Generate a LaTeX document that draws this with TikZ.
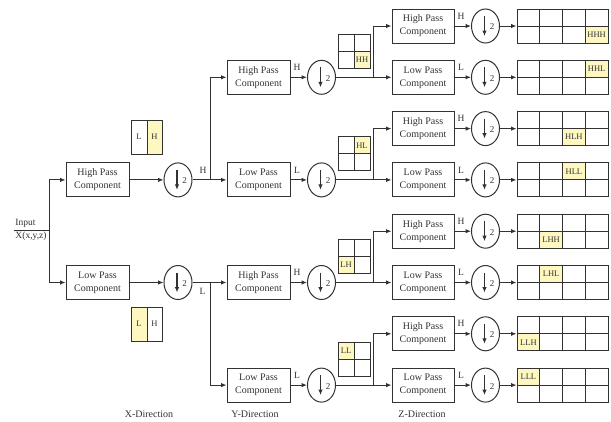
\documentclass[tikz,border=0pt]{standalone}
\usepackage{fontspec}
\setmainfont{Liberation Serif}
\usetikzlibrary{shapes.geometric,arrows.meta,calc}
\definecolor{ln}{RGB}{50,50,50}
\definecolor{hl}{RGB}{255,247,192}
\tikzset{
  box/.style={draw, minimum width=63pt, minimum height=34pt, inner sep=0pt, align=center, font=\fontsize{10}{13}\selectfont},
  ds/.style={draw, ellipse, minimum width=28pt, minimum height=34pt, inner sep=0pt},
  arr/.style={-{Latex[length=5.5pt,width=4.5pt]}},
  lbl/.style={font=\fontsize{9.5}{10}\selectfont, inner sep=0pt},
  cell/.style={font=\fontsize{8.5}{9}\selectfont, inner sep=0pt},
  dir/.style={font=\fontsize{10}{11}\selectfont, inner sep=0pt}
}
% down-sampler: name, x, y
\newcommand\dsamp[3]{%
  \node[ds] (#1) at (#2,#3) {};
  \draw[line width=1.1pt, -{Latex[length=5.5pt,width=4.5pt]}] ($(#1.center)+(-1,-10)$) -- ($(#1.center)+(-1,10)$);
  \node[font=\fontsize{9}{10}\selectfont, inner sep=0pt] at ($(#1.center)+(6.5,1)$) {2};
}
% output 4x2 grid: name, row y, highlight col, highlight row, text
\newcommand\outgrid[5]{%
  \fill[hl] ({517+(#3-1)*22.75},{#2-17+(#4-1)*17}) rectangle ++(22.75,17);
  \node[cell] at ({517+(#3-0.5)*22.75},{#2-17+(#4-0.5)*17}) {#5};
  \node[draw, minimum width=91pt, minimum height=34pt, inner sep=0pt] (#1) at (562.5,#2) {};
  \draw (539.75,{#2-17}) -- ++(0,34);
  \draw (562.5,{#2-17}) -- ++(0,34);
  \draw (585.25,{#2-17}) -- ++(0,34);
  \draw (517,#2) -- (608,#2);
}
% 2x2 grid: name, row y, highlight col, highlight row, text
\newcommand\quadgrid[5]{%
  \fill[hl] ({338+(#3-1)*16},{#2-43+(#4-1)*17}) rectangle ++(16,17);
  \node[cell] at ({338+(#3-0.5)*16},{#2-43+(#4-0.5)*17}) {#5};
  \node[draw, minimum width=32pt, minimum height=34pt, inner sep=0pt] (#1) at (354,{#2-26}) {};
  \draw (354,{#2-43}) -- ++(0,34);
  \draw (338,{#2-26}) -- (370,{#2-26});
}
\begin{document}
\begin{tikzpicture}[x=1pt, y=-1pt, line width=1pt, color=ln]
\useasboundingbox (0,0) rectangle (611,421);

% ---------- X stage ----------
\coordinate (inL) at (14,230);
\coordinate (xs) at (49,230);
\node[lbl, anchor=south west] (in1) at (15,228.5) {Input};
\node[lbl, anchor=north west] (in2) at (15,231.5) {X(x,y,z)};
\draw (inL) -- (xs);

\node[box] (xH) at (97.5,179.9) {High Pass\\Component};
\node[box] (xL) at (97.5,282.5) {Low Pass\\Component};
\draw[arr] (xs) |- (xH.west);
\draw[arr] (xs) |- (xL.west);
\dsamp{xHc}{178}{179.9}
\dsamp{xLc}{178}{282.5}
\draw[arr] (xH.east) -- (xHc.west);
\draw[arr] (xL.east) -- (xLc.west);

% L/H indicator boxes
\fill[hl] (147,120) rectangle (162,154);
\node[draw, minimum width=31pt, minimum height=34pt, inner sep=0pt] (lhTop) at (146.5,137) {};
\draw (147,120) -- (147,154);
\node[cell] at (139,137) {L};
\node[cell] at (154.5,137) {H};

\fill[hl] (131,307) rectangle (147,341);
\node[draw, minimum width=31pt, minimum height=34pt, inner sep=0pt] (lhBot) at (146.5,324) {};
\draw (147,307) -- (147,341);
\node[cell] at (139,324) {L};
\node[cell] at (154.5,324) {H};

% ---------- Y stage ----------
\node[box] (yA) at (258.5,77.3) {High Pass\\Component};
\node[box] (yB) at (258.5,179.9) {Low Pass\\Component};
\node[box] (yC) at (258.5,282.5) {High Pass\\Component};
\node[box] (yD) at (258.5,385.1) {Low Pass\\Component};

\coordinate (xHb) at (210,179.9);
\coordinate (xLb) at (210,282.5);
\draw (xHc.east) -- (xHb);
\draw[arr] (xHb) |- (yA.west);
\draw[arr] (xHb) -- (yB.west);
\draw (xLc.east) -- (xLb);
\draw[arr] (xLb) -- (yC.west);
\draw[arr] (xLb) |- (yD.west);
\node[lbl] at (203,170) {H};
\node[lbl] at (202.5,291) {L};

\dsamp{yAc}{321.5}{77.3}
\dsamp{yBc}{321.5}{179.9}
\dsamp{yCc}{321.5}{282.5}
\dsamp{yDc}{321.5}{385.1}
\draw[arr] (yA.east) -- (yAc.west);
\draw[arr] (yB.east) -- (yBc.west);
\draw[arr] (yC.east) -- (yCc.west);
\draw[arr] (yD.east) -- (yDc.west);
\node[lbl] at (297,67.3) {H};
\node[lbl] at (297,169.9) {L};
\node[lbl] at (297,272.5) {H};
\node[lbl] at (297,375.1) {L};

\quadgrid{qHH}{77.3}{2}{2}{HH}
\quadgrid{qHL}{179.9}{2}{1}{HL}
\quadgrid{qLH}{282.5}{1}{2}{LH}
\quadgrid{qLL}{385.1}{1}{1}{LL}

% ---------- Z stage ----------
\foreach \i/\yy/\t/\lab/\c/\r/\txt in {
  1/26/High/H/4/2/HHH, 2/77.3/Low/L/4/1/HHL,
  3/128.6/High/H/3/2/HLH, 4/179.9/Low/L/3/1/HLL,
  5/231.2/High/H/2/2/LHH, 6/282.5/Low/L/2/1/LHL,
  7/333.8/High/H/1/2/LLH, 8/385.1/Low/L/1/1/LLL}{
  \node[box, minimum width=62pt] (zb\i) at (423,\yy) {\t{} Pass\\Component};
  \dsamp{zc\i}{485.5}{\yy}
  \draw[arr] (zb\i.east) -- (zc\i.west);
  \node[lbl] at (461,{\yy-10}) {\lab};
  \outgrid{g\i}{\yy}{\c}{\r}{\txt}
  \draw[arr] (zc\i.east) -- (g\i.west);
}

\coordinate (yAb) at (373,77.3);
\coordinate (yBb) at (373,179.9);
\coordinate (yCb) at (373,282.5);
\coordinate (yDb) at (373,385.1);
\draw (yAc.east) -- (yAb);
\draw[arr] (yAb) |- (zb1.west);
\draw[arr] (yAb) -- (zb2.west);
\draw (yBc.east) -- (yBb);
\draw[arr] (yBb) |- (zb3.west);
\draw[arr] (yBb) -- (zb4.west);
\draw (yCc.east) -- (yCb);
\draw[arr] (yCb) |- (zb5.west);
\draw[arr] (yCb) -- (zb6.west);
\draw (yDc.east) -- (yDb);
\draw[arr] (yDb) |- (zb7.west);
\draw[arr] (yDb) -- (zb8.west);

% direction labels
\node[dir] (dX) at (149,414) {X-Direction};
\node[dir] (dY) at (255,414) {Y-Direction};
\node[dir] (dZ) at (422,414) {Z-Direction};
\end{tikzpicture}
\end{document}
